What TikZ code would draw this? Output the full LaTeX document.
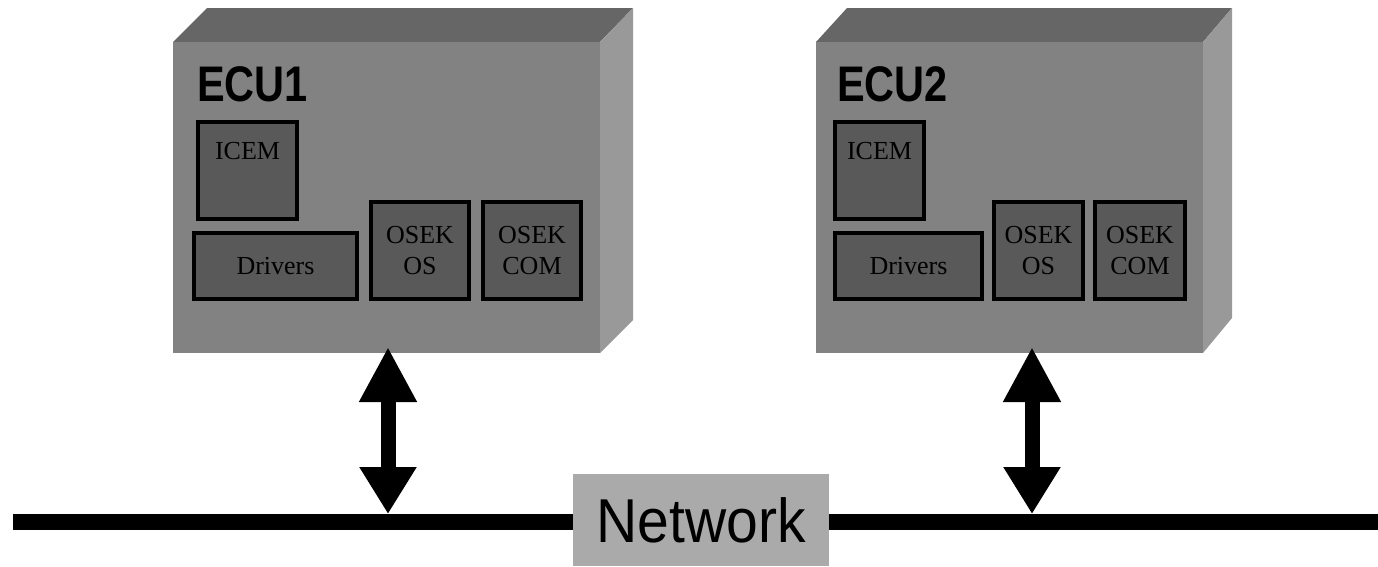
\documentclass[tikz,border=0pt]{standalone}
\usepackage{fontspec}
\setmainfont{Liberation Serif}
\newfontfamily\ecufont{Liberation Sans}
\usetikzlibrary{arrows.meta}
\definecolor{frontgray}{HTML}{828282}
\definecolor{topgray}{HTML}{666666}
\definecolor{sidegray}{HTML}{999999}
\definecolor{boxgray}{HTML}{595959}
\definecolor{netgray}{HTML}{AAAAAA}
\tikzset{
  front/.style={fill=frontgray, draw=none, inner sep=0pt, rectangle},
  topface/.style={fill=topgray, draw=none},
  sideface/.style={fill=sidegray, draw=none},
  module/.style={fill=boxgray, draw=black, line width=3.2pt, inner sep=0pt, rectangle,
    font=\fontsize{26}{31}\selectfont, text=black, align=center},
  ecutitle/.style={font=\ecufont\bfseries\fontsize{50}{50}\selectfont, inner sep=0pt, anchor=base west},
  bus/.style={line width=16pt, black, line cap=butt},
  dbl/.style={line width=15pt, black,
    {Triangle[length=55pt,width=54pt]}-{Triangle[length=47pt,width=54pt]}},
  netbox/.style={fill=netgray, draw=none, inner sep=0pt, rectangle,
    font=\ecufont\fontsize{62}{62}\selectfont}
}
\begin{document}
\begin{tikzpicture}[x=1pt,y=-1pt]
\useasboundingbox (0,0) rectangle (1378,566);

% ECU1 box
\fill[topface] (173,42) -- (207,8) -- (633,8) -- (600,42) -- cycle;
\fill[sideface] (600,42) -- (633,8) -- (633,320) -- (600,353) -- cycle;
\node[front, minimum width=427pt, minimum height=311pt] (ecu1) at (386.5,197.5) {};
\node[ecutitle] (ecu1t) at (197,101) {\scalebox{0.83}[1]{ECU1}};
\node[module, minimum width=99pt, minimum height=97pt] (icem1) at (247.5,170.5) {};
\node[anchor=north, font=\fontsize{26}{31}\selectfont, text=black, inner sep=0pt] at (icem1.north) [yshift=-22pt] {ICEM};
\node[module, minimum width=163pt, minimum height=66pt] (drv1) at (275.5,266) {\raisebox{-2pt}{Drivers}};
\node[module, minimum width=98pt, minimum height=97pt] (os1) at (420,250.5) {OSEK\\OS};
\node[module, minimum width=98pt, minimum height=97pt] (com1) at (532,250.5) {OSEK\\COM};

% ECU2 box
\fill[topface] (816,42) -- (847,8) -- (1232,8) -- (1203,42) -- cycle;
\fill[sideface] (1203,42) -- (1232,8) -- (1232,318) -- (1203,353) -- cycle;
\node[front, minimum width=387pt, minimum height=311pt] (ecu2) at (1009.5,197.5) {};
\node[ecutitle] (ecu2t) at (837,101) {\scalebox{0.83}[1]{ECU2}};
\node[module, minimum width=89pt, minimum height=97pt] (icem2) at (879.5,170.5) {};
\node[anchor=north, font=\fontsize{26}{31}\selectfont, text=black, inner sep=0pt] at (icem2.north) [yshift=-22pt] {ICEM};
\node[module, minimum width=147pt, minimum height=66pt] (drv2) at (908.5,266) {\raisebox{-2pt}{Drivers}};
\node[module, minimum width=89pt, minimum height=97pt] (os2) at (1038.5,250.5) {OSEK\\OS};
\node[module, minimum width=90pt, minimum height=97pt] (com2) at (1140,250.5) {OSEK\\COM};

% Network
\coordinate (busL) at (13,522);
\coordinate (busR) at (1378,522);
\draw[bus] (busL) -- (busR);
\node[netbox, minimum width=256pt, minimum height=92pt] (net) at (701,520) {\raisebox{-4pt}{\scalebox{0.92}[1]{Network}}};

% connections
\coordinate (a1top) at (388,347);
\coordinate (a1bot) at (388,514);
\coordinate (a2top) at (1032,347);
\coordinate (a2bot) at (1032,514);
\draw[dbl] (a1top) -- (a1bot);
\draw[dbl] (a2top) -- (a2bot);
\end{tikzpicture}
\end{document}
